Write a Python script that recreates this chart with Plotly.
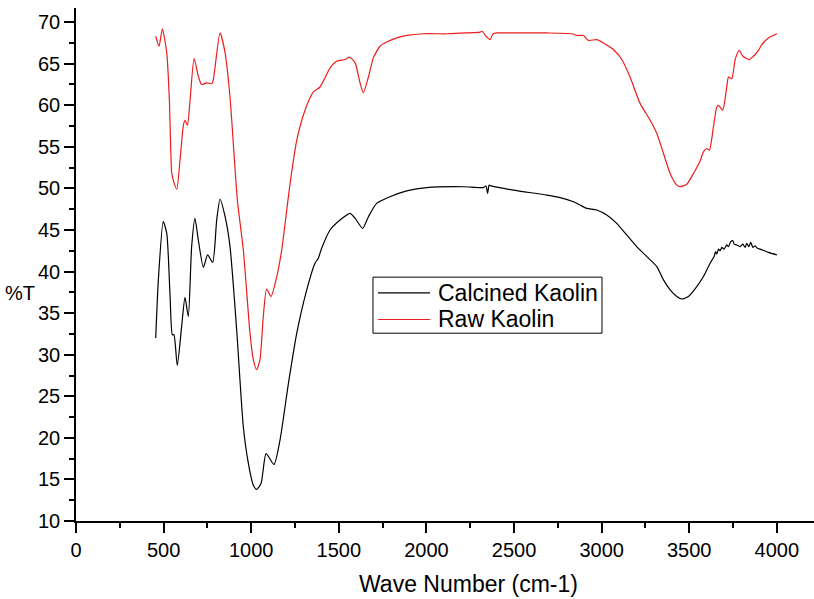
import plotly.graph_objects as go

# Raw Kaolin (red)
raw_x = [455, 474, 493, 518, 533, 546, 555, 575, 594, 613, 622, 636, 651, 674, 698, 717, 746, 775, 784,
         822, 851, 879, 921, 955, 993, 1012, 1031, 1050, 1069, 1088, 1113, 1146, 1174, 1222, 1260, 1307,
         1355, 1393, 1421, 1450, 1488, 1536, 1561, 1593, 1621, 1640, 1669, 1697, 1735, 1773, 1831, 1888,
         1983, 2116, 2230, 2306, 2318, 2340, 2363, 2380, 2401, 2496, 2687, 2830, 2858, 2896, 2925, 2972,
         3010, 3067, 3115, 3162, 3220, 3277, 3315, 3353, 3391, 3429, 3448, 3486, 3524, 3562, 3581, 3600,
         3615, 3638, 3657, 3667, 3691, 3714, 3724, 3743, 3762, 3785, 3806, 3843, 3866, 3895, 3914, 3952, 4000]
raw_y = [68.3, 67.1, 69.2, 66.3, 60.6, 51.9, 51.0, 49.9, 53.5, 57.6, 58.2, 57.6, 60.6, 65.6, 63.5, 62.5, 62.7, 62.6, 63.1,
         68.7, 66.3, 61.0, 48.6, 42.6, 32.6, 29.4, 28.2, 29.4, 34.6, 37.9, 37.0, 39.4, 42.6, 50.6, 55.8, 59.4,
         61.6, 62.2, 63.3, 64.5, 65.3, 65.5, 65.8, 65.1, 62.7, 61.5, 63.4, 65.7, 67.1, 67.6, 68.1, 68.4,
         68.6, 68.6, 68.7, 68.8, 68.9, 68.3, 67.9, 68.6, 68.7, 68.7, 68.7, 68.6, 68.4, 68.4, 67.8, 67.9,
         67.5, 66.7, 65.5, 63.4, 60.2, 58.2, 56.6, 54.2, 51.8, 50.4, 50.2, 50.5, 51.8, 53.3, 54.4, 54.8,
         54.6, 57.4, 59.8, 60.0, 59.4, 62.2, 63.4, 63.2, 65.5, 66.6, 65.9, 65.5, 65.9, 66.6, 67.3, 68.1, 68.6]

# Calcined Kaolin (black)
cal_x = [455, 470, 498, 518, 537, 550, 559, 578, 603, 622, 641, 660, 679, 698, 727, 751, 780, 803, 822,
         851, 879, 917, 955, 984, 1012, 1031, 1056, 1085, 1130, 1164, 1212, 1260, 1317, 1364, 1383, 1402,
         1450, 1507, 1564, 1593, 1636, 1669, 1716, 1792, 1888, 2002, 2211, 2325, 2340, 2349, 2358, 2368,
         2496, 2687, 2763, 2839, 2877, 2915, 2972, 3029, 3086, 3143, 3200, 3258, 3315, 3353, 3391, 3429,
         3458, 3495, 3543, 3581, 3619, 3642, 3650, 3657, 3667, 3676, 3686, 3699, 3714, 3724, 3737, 3749,
         3756, 3771, 3790, 3806, 3819, 3828, 3840, 3851, 3863, 3876, 3889, 3905, 3952, 4000]
cal_y = [32.0, 39.0, 46.0, 44.6, 37.0, 32.4, 32.4, 28.7, 33.4, 36.9, 34.6, 43.0, 46.4, 43.8, 40.5, 42.0, 41.1, 46.2, 48.7,
         46.6, 43.0, 33.0, 21.3, 16.9, 14.3, 13.8, 14.5, 18.1, 16.8, 19.7, 26.5, 32.6, 37.8, 41.0, 41.6, 42.8,
         45.0, 46.2, 47.0, 46.4, 45.2, 46.6, 48.2, 49.0, 49.7, 50.1, 50.2, 50.1, 50.3, 49.4, 50.4, 50.3,
         49.8, 49.2, 48.9, 48.4, 48.0, 47.6, 47.4, 46.8, 45.8, 44.4, 43.0, 41.8, 40.6, 39.0, 37.8, 37.0,
         36.7, 37.0, 38.2, 39.4, 41.0, 41.8, 42.4, 42.1, 42.7, 42.5, 42.9, 42.7, 43.2, 43.0, 43.6, 43.7,
         43.3, 43.2, 43.0, 43.3, 42.9, 43.4, 43.0, 43.5, 42.9, 43.1, 42.8, 42.7, 42.3, 42.0]

series_names = ["Calcined Kaolin", "Raw Kaolin"]
series_colors = ["black", "#ee1c1c"]

x_ticks = [0, 500, 1000, 1500, 2000, 2500, 3000, 3500, 4000]
y_ticks = [10, 15, 20, 25, 30, 35, 40, 45, 50, 55, 60, 65, 70]

FONT = "Liberation Sans, Arial, sans-serif"

fig = go.Figure()
for name, color, xs, ys in zip(series_names, series_colors, [cal_x, raw_x], [cal_y, raw_y]):
    fig.add_trace(go.Scatter(x=xs, y=ys, mode="lines", name=name, showlegend=False,
                             line=dict(color=color, width=1.2, shape="spline", smoothing=0.6)))

fig.update_layout(
    width=814, height=599,
    margin=dict(l=76, r=0, t=8, b=78),
    paper_bgcolor="white", plot_bgcolor="white",
    font=dict(family=FONT, color="black", size=20),
    showlegend=False,
    xaxis=dict(range=[0, 4212], tickvals=x_ticks, ticks="outside", ticklen=10, tickwidth=1.5,
               tickcolor="black", showline=True, linecolor="black", linewidth=1.5, showgrid=False,
               zeroline=False, tickfont=dict(size=20),
               minor=dict(dtick=250, ticks="outside", ticklen=5, tickwidth=1.5, tickcolor="black")),
    yaxis=dict(range=[10, 71.7], tickvals=y_ticks, ticks="outside", ticklen=10, tickwidth=1.5,
               tickcolor="black", showline=True, linecolor="black", linewidth=1.5, showgrid=False,
               zeroline=False, tickfont=dict(size=20),
               minor=dict(dtick=2.5, ticks="outside", ticklen=5, tickwidth=1.5, tickcolor="black")),
)

# legend box drawn in paper coordinates
fig.add_shape(type="rect", xref="paper", yref="paper", x0=0.4024, x1=0.7127, y0=0.3661, y1=0.4753,
              line=dict(color="black", width=1), fillcolor="white", layer="above")
legend_rows_y = [0.4447, 0.3928]
for name, color, ly in zip(series_names, series_colors, legend_rows_y):
    fig.add_shape(type="line", xref="paper", yref="paper", x0=0.4092, x1=0.4797, y0=ly, y1=ly,
                  line=dict(color=color, width=1.2), layer="above")
    fig.add_annotation(text=name, xref="paper", yref="paper", x=0.4880, y=ly, showarrow=False,
                       xanchor="left", yanchor="middle", font=dict(family=FONT, size=23, color="black"))

fig.add_annotation(text="%T", xref="paper", yref="paper", x=-0.076, y=0.444,
                   showarrow=False, font=dict(family=FONT, size=20), xanchor="center", yanchor="middle")
fig.add_annotation(text="Wave Number (cm-1)", xref="paper", yref="paper", x=0.5325, y=-0.122,
                   showarrow=False, font=dict(family=FONT, size=23), xanchor="center", yanchor="middle")

fig.write_html("out.html", config={"displayModeBar": False},
               post_script="document.body.style.margin='0';document.body.style.padding='0';")
